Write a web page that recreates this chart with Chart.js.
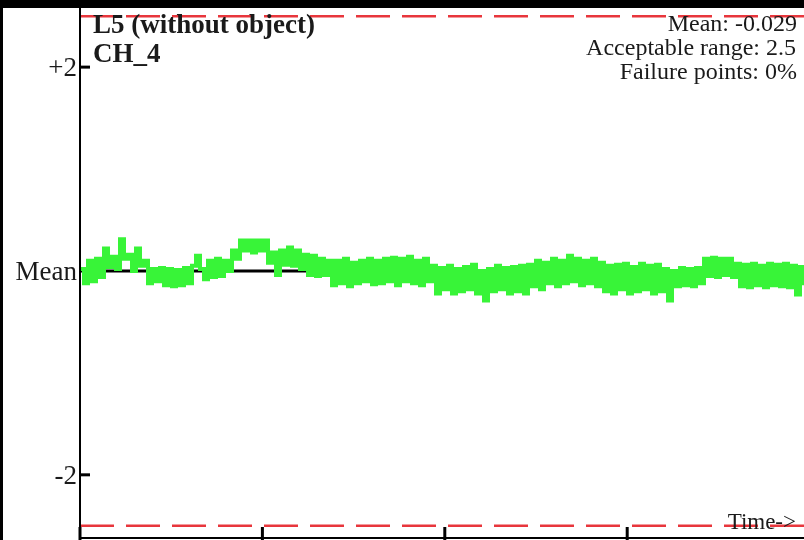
<!DOCTYPE html>
<html>
<head>
<meta charset="utf-8">
<script src="https://cdn.jsdelivr.net/npm/chart.js@4/dist/chart.umd.min.js"></script>
<style>
  body { margin: 0; background: #fff; }
  #wrap { width: 804px; height: 540px; position: relative; }
</style>
</head>
<body>
<div id="wrap"><canvas id="chart-ch4" width="804" height="540"></canvas></div>
<script>
// CH_4 signal, relative to mean (one sample every step)
const muestras = [
  0.02, -0.12, 0.10, -0.10, 0.12, -0.06, 0.22, 0.04, 0.14, 0.02,
  0.31, 0.12, 0.16, 0.00, 0.22, 0.05, 0.10, -0.12, 0.02, -0.10,
  0.03, -0.14, 0.02, -0.15, 0.01, -0.14, 0.03, -0.12, 0.05, 0.15,
  0.02, -0.08, 0.10, -0.06, 0.12, -0.05, 0.10, 0.00, 0.20, 0.12,
  0.30, 0.20, 0.30, 0.18, 0.30, 0.20, 0.30, 0.08, 0.18, -0.04,
  0.20, 0.06, 0.23, 0.05, 0.20, 0.02, 0.16, -0.04, 0.15, -0.05,
  0.12, -0.04, 0.10, -0.14, 0.10, -0.12, 0.12, -0.15, 0.08, -0.12,
  0.10, -0.10, 0.12, -0.13, 0.10, -0.12, 0.12, -0.10, 0.13, -0.14,
  0.12, -0.10, 0.14, -0.12, 0.10, -0.14, 0.12, -0.10, 0.05, -0.22,
  0.03, -0.18, 0.05, -0.22, 0.02, -0.20, 0.04, -0.18, 0.06, -0.22,
  0.00, -0.29, 0.02, -0.20, 0.05, -0.18, 0.03, -0.22, 0.04, -0.20,
  0.05, -0.22, 0.06, -0.15, 0.10, -0.18, 0.08, -0.12, 0.12, -0.15,
  0.10, -0.12, 0.15, -0.10, 0.12, -0.14, 0.10, -0.12, 0.12, -0.15,
  0.08, -0.20, 0.05, -0.22, 0.06, -0.18, 0.07, -0.22, 0.04, -0.20,
  0.07, -0.18, 0.05, -0.22, 0.06, -0.20, 0.02, -0.29, 0.00, -0.15,
  0.03, -0.14, 0.02, -0.15, 0.03, -0.12, 0.12, -0.05, 0.13, -0.06,
  0.12, -0.04, 0.12, -0.06, 0.07, -0.15, 0.06, -0.16, 0.07, -0.14,
  0.05, -0.16, 0.07, -0.14, 0.06, -0.15, 0.07, -0.16, 0.05, -0.23,
  0.04, -0.14
];
const media = -0.029;
const rangoAceptable = 2.5;
const fallos = '0%';
const yTicks = [-2, 0, 2];
const yEtiquetas = ['-2', 'Mean', '+2'];
const xTicks = [0, 45.6, 91.2, 136.8];
const xMax = 181;
const yMin = -2.61, yMax = 2.58;

const serif = '"Liberation Serif", "Times New Roman", serif';

function linea(y) {
    return [{ x: 0, y: y }, { x: xMax, y: y }];
}

// marco, ejes, textos y ticks hacia dentro
const decoracion = {
    id: 'decoracion',
    beforeDraw(chart) {
        const ctx = chart.ctx;
        ctx.save();
        ctx.fillStyle = '#fff';
        ctx.fillRect(0, 0, chart.width, chart.height);
        ctx.restore();
    },
    afterDraw(chart) {
        const ctx = chart.ctx;
        const area = chart.chartArea;
        const xs = chart.scales.x, ys = chart.scales.y;
        ctx.save();

        // ejes
        ctx.strokeStyle = '#000';
        ctx.lineWidth = 2;
        ctx.beginPath();
        ctx.moveTo(area.left, area.top);
        ctx.lineTo(area.left, chart.height);
        ctx.moveTo(area.left, area.bottom + 1);
        ctx.lineTo(area.right, area.bottom + 1);
        ctx.stroke();

        ctx.lineWidth = 3;
        [-2, 2].forEach(v => {
            const y = ys.getPixelForValue(v);
            ctx.beginPath();
            ctx.moveTo(area.left, y);
            ctx.lineTo(area.left + 10, y);
            ctx.stroke();
        });
        xTicks.forEach(v => {
            const x = xs.getPixelForValue(v);
            ctx.beginPath();
            ctx.moveTo(x, area.bottom - 10);
            ctx.lineTo(x, chart.height);
            ctx.stroke();
        });

        ctx.fillStyle = '#000';
        ctx.fillRect(0, 0, chart.width, 8);
        ctx.fillRect(0, 0, 3, chart.height);

        // etiquetas del eje y
        ctx.fillStyle = '#1a1a1a';
        ctx.font = '27px ' + serif;
        ctx.textAlign = 'right';
        ctx.textBaseline = 'middle';
        yTicks.forEach((v, i) => {
            ctx.fillText(yEtiquetas[i], area.left - 3, ys.getPixelForValue(v) + 2);
        });

        ctx.textBaseline = 'alphabetic';
        ctx.textAlign = 'left';
        ctx.font = 'bold 27px ' + serif;
        ctx.fillText('L5 (without object)', 93, 33);
        ctx.fillText('CH_4', 93, 62);

        ctx.font = '24px ' + serif;
        ctx.textAlign = 'right';
        ctx.fillText('Mean: ' + media.toFixed(3), 797, 31);
        ctx.fillText('Acceptable range: ' + rangoAceptable, 796, 55);
        ctx.fillText('Failure points: ' + fallos, 797, 79);
        ctx.font = '23px ' + serif;
        ctx.fillText('Time->', 796, 529);
        ctx.restore();
    }
};

new Chart(document.getElementById('chart-ch4'), {
    type: 'line',
    data: {
        datasets: [
            {
                label: 'CH_4',
                data: muestras.map((v, i) => ({ x: i, y: v })),
                borderColor: '#38f438',
                borderWidth: 4,
                stepped: true,
                pointRadius: 0,
                order: 1
            },
            {
                label: 'Mean',
                data: linea(0),
                borderColor: '#000',
                borderWidth: 3,
                pointRadius: 0,
                order: 2
            },
            {
                label: 'Upper',
                data: linea(rangoAceptable),
                borderColor: '#e8363c',
                borderWidth: 2.5,
                borderDash: [34, 12],
                pointRadius: 0,
                order: 3
            },
            {
                label: 'Lower',
                data: linea(-rangoAceptable),
                borderColor: '#e8363c',
                borderWidth: 2.5,
                borderDash: [34, 12],
                pointRadius: 0,
                order: 3
            }
        ]
    },
    options: {
        responsive: false,
        animation: false,
        layout: { padding: { top: 8, right: 0, bottom: 3, left: 80 } },
        plugins: { legend: { display: false }, tooltip: { enabled: false } },
        scales: {
            x: { type: 'linear', display: false, min: 0, max: xMax },
            y: { display: false, min: yMin, max: yMax }
        }
    },
    plugins: [decoracion]
});
</script>
</body>
</html>
